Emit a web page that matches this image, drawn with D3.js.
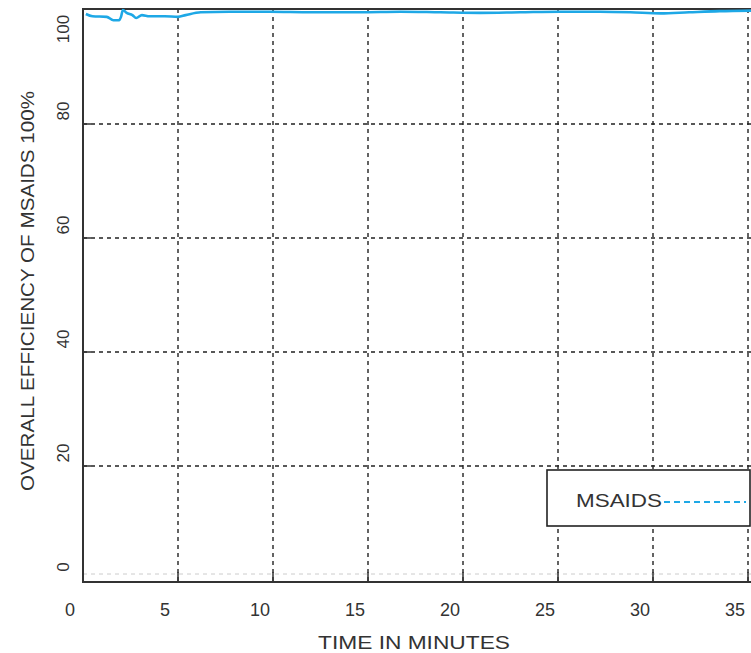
<!DOCTYPE html>
<html>
<head>
<meta charset="utf-8">
<script src="https://cdn.jsdelivr.net/npm/d3@7"></script>
<style>
  html, body { margin: 0; padding: 0; background: #fff; }
  svg { display: block; }
  text { font-family: "Liberation Sans", Arial, sans-serif; fill: #333; }
</style>
</head>
<body>
<svg id="chart" width="751" height="653"></svg>
<script>
const timeMin = [0.15, 0.5, 1.25, 1.6, 1.9, 2.0, 2.1, 2.3, 2.6, 2.8, 3.1, 3.5, 4.3, 5.0, 5.4, 6.2, 7.7, 9.8, 12, 14.6, 16.7, 18.8, 20.9, 23, 25.1, 27.2, 28.8, 30.4, 31.9, 33.5, 35.3];
const efficiency = [99.3, 98.9, 98.8, 98.2, 98.2, 98.8, 100, 99.5, 99.1, 98.6, 99.1, 98.9, 98.9, 98.8, 99.1, 99.6, 99.7, 99.7, 99.6, 99.6, 99.7, 99.6, 99.5, 99.6, 99.7, 99.7, 99.6, 99.4, 99.6, 99.8, 99.9];
const xTicks = [0, 5, 10, 15, 20, 25, 30, 35];
const yTicks = [0, 20, 40, 60, 80, 100];
const seriesName = "MSAIDS";
const xTitle = "TIME IN MINUTES";
const yTitle = "OVERALL EFFICIENCY OF MSAIDS 100%";

(function () {
const svg = d3.select("#chart");
const pL = 83, pR = 748, pT = 10, pB = 580;
const x = d3.scaleLinear().domain([0, 35]).range([pL, pR]);
const y = d3.scaleLinear().domain([0, 100]).range([pB, pT]);

// grid
const grid = svg.append("g").attr("stroke", "#222").attr("stroke-width", 1.4).attr("stroke-dasharray", "4,4");
xTicks.filter(d => d > 0).forEach(d => {
  grid.append("line").attr("x1", x(d)).attr("x2", x(d)).attr("y1", 9).attr("y2", 582);
});
yTicks.filter(d => d > 0 && d < 100).forEach(d => {
  grid.append("line").attr("x1", pL).attr("x2", 751).attr("y1", y(d)).attr("y2", y(d));
});
svg.append("line").attr("x1", pL).attr("x2", 751).attr("y1", y(0) - 6).attr("y2", y(0) - 6)
  .attr("stroke", "#ccc").attr("stroke-dasharray", "4,4").attr("stroke-width", 1);

// inner tick marks
const tk = svg.append("g").attr("stroke", "#333").attr("stroke-width", 1.5);
xTicks.filter(d => d > 0).forEach(d => {
  tk.append("line").attr("x1", x(d)).attr("x2", x(d)).attr("y1", 582).attr("y2", 572);
});
yTicks.filter(d => d > 0 && d < 100).forEach(d => {
  tk.append("line").attr("x1", pL).attr("x2", pL + 8).attr("y1", y(d)).attr("y2", y(d));
});

// frame
const fr = svg.append("g").attr("stroke", "#333").attr("stroke-width", 2).attr("fill", "none");
fr.append("line").attr("x1", pL).attr("x2", pL).attr("y1", 9).attr("y2", 583);
fr.append("line").attr("x1", pL - 1).attr("x2", 751).attr("y1", 582).attr("y2", 582);
fr.append("line").attr("x1", pL - 1).attr("x2", 751).attr("y1", 9).attr("y2", 9);

// line
const line = d3.line().x((d, i) => x(timeMin[i])).y(d => y(d)).curve(d3.curveMonotoneX);
svg.append("path").datum(efficiency).attr("d", line)
  .attr("fill", "none").attr("stroke", "#1ea8e6").attr("stroke-width", 2.6);

// x tick labels
svg.append("g").selectAll("text").data(xTicks).join("text")
  .attr("x", d => x(d) - 13).attr("y", 616)
  .attr("text-anchor", "middle").attr("font-size", 18).text(d => d);

// y tick labels (rotated)
svg.append("g").selectAll("text").data(yTicks).join("text")
  .attr("transform", d => `translate(69, ${Math.max(29, y(d) - 13)}) rotate(-90)`)
  .attr("text-anchor", "middle").attr("font-size", 17).text(d => d);

// axis titles
svg.append("text").attr("x", 414).attr("y", 649).attr("text-anchor", "middle")
  .attr("font-size", 18).attr("textLength", 192).attr("lengthAdjust", "spacingAndGlyphs").text(xTitle);
svg.append("text").attr("transform", "translate(34, 291) rotate(-90)")
  .attr("text-anchor", "middle").attr("font-size", 17.5)
  .attr("textLength", 400).attr("lengthAdjust", "spacingAndGlyphs").text(yTitle);

// legend
const lg = svg.append("g");
lg.append("rect").attr("x", 547).attr("y", 470).attr("width", 203).attr("height", 56)
  .attr("fill", "#fff").attr("stroke", "#222").attr("stroke-width", 1.6);
lg.append("text").attr("x", 576).attr("y", 507).attr("font-size", 18)
  .attr("textLength", 86).attr("lengthAdjust", "spacingAndGlyphs").text(seriesName);
lg.append("line").attr("x1", 664).attr("x2", 746).attr("y1", 502).attr("y2", 502)
  .attr("stroke", "#1ea8e6").attr("stroke-width", 2.2).attr("stroke-dasharray", "6,4");
})();
</script>
</body>
</html>
